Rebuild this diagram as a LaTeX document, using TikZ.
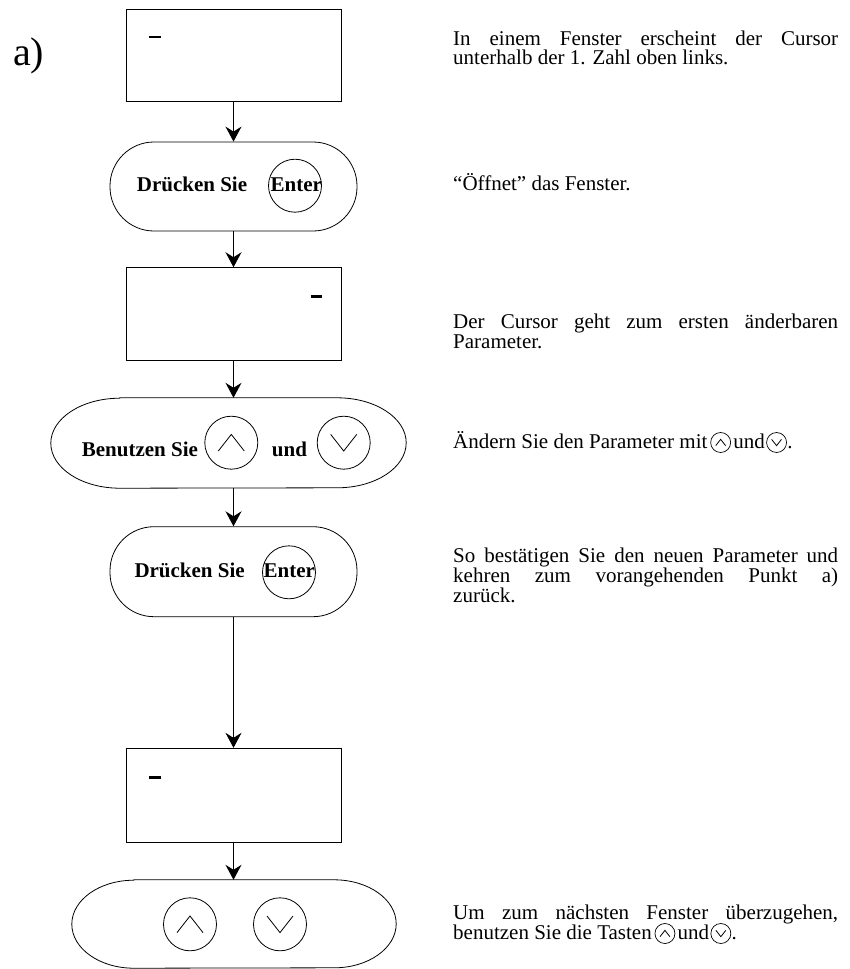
\documentclass[tikz,border=0pt]{standalone}
\usepackage{fontspec}
\setmainfont{Liberation Serif}
\usetikzlibrary{arrows.meta,calc}
\newcommand\keyup[2]{\draw[chev] ($(#1)+#2*(-13,-8.3)$) -- ($(#1)+#2*(0,8.3)$) -- ($(#1)+#2*(13,-8.3)$);}
\newcommand\keydown[2]{\draw[chev] ($(#1)+#2*(-13,8.3)$) -- ($(#1)+#2*(0,-8.3)$) -- ($(#1)+#2*(13,8.3)$);}
\newcommand\jline[1]{\makebox[385pt][s]{#1}}
\begin{document}
\begin{tikzpicture}[x=1pt,y=1pt,
  box/.style={draw, line width=1pt, minimum width=215pt, minimum height=92pt, inner sep=0pt},
  pill/.style={draw, line width=0.8pt, rounded corners=44pt, minimum width=247pt, minimum height=89pt, inner sep=0pt},
  epill/.style={minimum height=90pt, inner sep=0pt},
  pline/.style={line width=0.8pt},
  key/.style={circle, draw, line width=0.8pt, minimum size=53pt, inner sep=0pt},
  smallkey/.style={circle, draw, line width=0.7pt, minimum size=20pt, inner sep=0pt},
  flow/.style={line width=1pt, -{Stealth[length=15pt,width=16pt,inset=5pt]}},
  cursor/.style={line width=2.5pt},
  chev/.style={line width=0.8pt},
  body/.style={anchor=base west, inner sep=0pt, font=\fontsize{21}{20}\selectfont},
  lbl/.style={anchor=base west, inner sep=0pt, font=\fontsize{21}{21}\selectfont\bfseries},
]
\useasboundingbox (0,0) rectangle (849,-969);

% label
\node[anchor=base west, inner sep=0pt, font=\fontsize{40}{40}\selectfont] (lab) at (13,-65) {a)};

% flow shapes
\node[box] (b1) at (233.5,-55) {};
\node[pill] (p1) at (233.5,-186.5) {};
\node[box, minimum height=92.3pt] (b2) at (233.5,-313.9) {};
\node[epill, minimum width=355pt] (p2) at (228.5,-443) {};
\node[pill, minimum height=90pt] (p3) at (233.5,-571.7) {};
\node[box, minimum height=93.7pt] (b4) at (233.5,-795.2) {};
\node[epill, minimum width=324pt, minimum height=88pt] (p5) at (234,-924) {};

% elliptic-ended pills
\draw[pline] ($(p2.north west)+(69,0)$) -- ($(p2.north east)+(-69,0)$)
  arc[start angle=90,end angle=-90,x radius=69,y radius=45]
  -- ($(p2.south west)+(69,0)$)
  arc[start angle=270,end angle=90,x radius=69,y radius=45] -- cycle;
\draw[pline] ($(p5.north west)+(62,0)$) -- ($(p5.north east)+(-62,0)$)
  arc[start angle=90,end angle=-90,x radius=62,y radius=44]
  -- ($(p5.south west)+(62,0)$)
  arc[start angle=270,end angle=90,x radius=62,y radius=44] -- cycle;

% cursors
\draw[cursor] ($(b1.north west)+(23,-28.7)$) -- ++(12,0);
\draw[cursor] ($(b2.north west)+(185,-29)$) -- ++(11.5,0);
\draw[cursor] ($(b4.north west)+(23,-29.7)$) -- ++(12,0);

% pill contents
\node[lbl] (p1t) at (136.7,-191.7) {Drücken Sie};
\node[key] (e1) at (295,-185.7) {};
\node[lbl] (e1t) at (270.5,-191.7) {Enter};
\node[lbl] (p2t) at (81.7,-456.7) {Benutzen Sie};
\node[key] (u2) at (231.3,-442.7) {};
\node[lbl] (p2m) at (271.7,-456.7) {und};
\node[key] (d2) at (343.7,-442.7) {};
\node[lbl] (p3t) at (134.3,-577.3) {Drücken Sie};
\node[key] (e3) at (289,-572.3) {};
\node[lbl] (e3t) at (263.5,-577.3) {Enter};
\node[key] (u5) at (190,-924.3) {};
\node[key] (d5) at (280,-924.3) {};
\keyup{u2}{1}
\keydown{d2}{1}
\keyup{u5}{1}
\keydown{d5}{1}

% connectors
\draw[flow] (b1.south) -- (p1.north);
\draw[flow] (p1.south) -- (b2.north);
\draw[flow] (b2.south) -- (b2.south |- p2.north);
\draw[flow] (p3.north |- p2.south) -- (p3.north);
\draw[flow] (p3.south) -- (b4.north);
\draw[flow] (b4.south) -- (b4.south |- p5.north);

% descriptions
\node[body] (t1a) at (453,-45) {\jline{In einem Fenster erscheint der Cursor}};
\node[body] (t1b) at (453,-64) {unterhalb der 1. Zahl oben links.};
\node[body] (t2) at (453,-190) {“Öffnet” das Fenster.};
\node[body] (t3a) at (453,-328) {\jline{Der Cursor geht zum ersten änderbaren}};
\node[body] (t3b) at (453,-348) {Parameter.};
\node[body] (t4) at (453,-448) {Ändern Sie den Parameter mit};
\node[smallkey] (t4u) at ($(t4.base east)+(13,5.5)$) {};
\node[body] (t4m) at ($(t4u.center)+(12.5,-5.5)$) {und};
\node[smallkey] (t4d) at ($(t4m.base east)+(11.5,5.5)$) {};
\node[body] (t4e) at ($(t4d.center)+(10.5,-5.5)$) {.};
\keyup{t4u}{0.38}
\keydown{t4d}{0.38}
\node[body] (t5a) at (453,-562) {\jline{So bestätigen Sie den neuen Parameter und}};
\node[body] (t5b) at (453,-582) {\jline{kehren zum vorangehenden Punkt a)}};
\node[body] (t5c) at (453,-602) {zurück.};
\node[body] (t6a) at (453,-919) {\jline{Um zum nächsten Fenster überzugehen,}};
\node[body] (t6b) at (453,-939) {benutzen Sie die Tasten};
\node[smallkey] (t6u) at ($(t6b.base east)+(13,5.5)$) {};
\node[body] (t6m) at ($(t6u.center)+(12.5,-5.5)$) {und};
\node[smallkey] (t6d) at ($(t6m.base east)+(11.5,5.5)$) {};
\node[body] (t6e) at ($(t6d.center)+(10.5,-5.5)$) {.};
\keyup{t6u}{0.38}
\keydown{t6d}{0.38}
\end{tikzpicture}
\end{document}
